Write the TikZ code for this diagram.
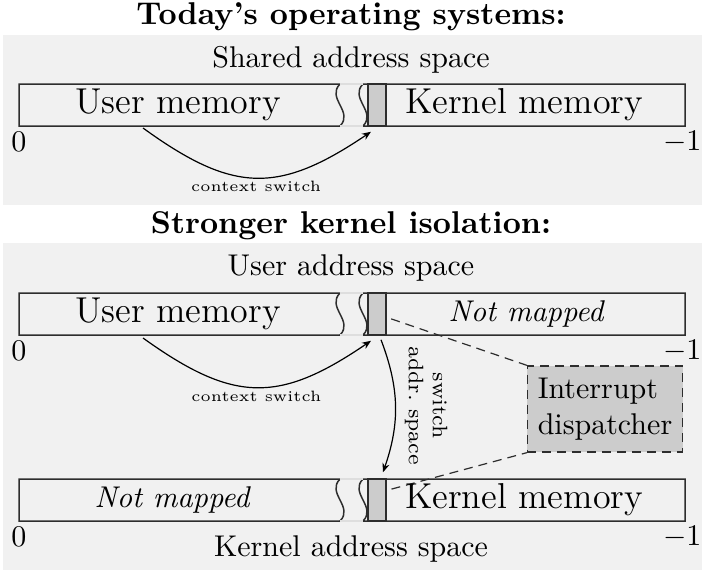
\documentclass[tikz,border=0pt]{standalone}
\usetikzlibrary{arrows.meta, backgrounds}
\definecolor{panelcol}{RGB}{241, 241, 241}
\definecolor{entrycol}{RGB}{204, 204, 204}
\definecolor{linecol}{RGB}{45, 45, 45}
\definecolor{gapcol}{RGB}{222, 222, 222}
\tikzset{
  panel/.style    = {fill=panelcol, draw=none},
  barline/.style  = {draw=linecol, line width=0.5pt},
  gapline/.style  = {draw=gapcol, line width=0.5pt},
  entry/.style    = {draw=linecol, fill=entrycol, line width=0.5pt,
                     minimum width=6pt, minimum height=14pt, inner sep=0pt},
  memtext/.style  = {inner sep=1pt, font=\large},
  unmapped/.style = {inner sep=1pt, font=\itshape},
  heading/.style  = {font=\fontsize{10.5}{13}\selectfont\bfseries, inner sep=1pt},
  spacelbl/.style = {inner sep=1pt},
  endlbl/.style   = {inner sep=0pt},
  flow/.style     = {-{Stealth[length=3pt, width=2.4pt]}, draw=black},
  cslbl/.style    = {font=\tiny, inner sep=1pt},
  swlbl/.style    = {font=\scriptsize, align=center, rotate=-90, inner sep=3pt},
  dispatch/.style = {draw=linecol, densely dashed, fill=entrycol, align=left,
                     minimum width=51.7pt, minimum height=28.7pt},
  maplink/.style  = {draw=linecol, densely dashed},
}

\begin{document}
\begin{tikzpicture}[x=0.3333pt, y=-0.3333pt]
  \useasboundingbox (0,0) rectangle (702,575);

  \begin{scope}[on background layer]
    \fill[panel] (3,35) rectangle (702,205);
    \fill[panel] (3,243) rectangle (702,570);
  \end{scope}

  %% ---------------- today ----------------
  \node[heading] (today) at (351,17) {Today's operating systems:};
  \node[spacelbl] (shared) at (351,60) {Shared address space};

  \draw[barline] (19,84) -- (340,84) .. controls (326,98) and (354,112) .. (340,126) -- (19,126) -- cycle;
  \draw[barline] (685,84) -- (363,84) .. controls (349,98) and (377,112) .. (363,126) -- (685,126) -- cycle;
  \draw[gapline] (340,84) -- (363,84) (340,126) -- (363,126);
  \node[entry] (entry1) at (377,105) {};
  \node[memtext] (umem1) at (178,105) {User memory};
  \node[memtext] (kmem1) at (524,105) {Kernel memory};
  \node[endlbl] (zero1) at (19,142) {0};
  \node[endlbl, anchor=east] (top1) at (702,142) {$-1$};

  \coordinate (cs1) at (143,128);
  \draw[flow] (cs1) to[bend right=35, looseness=1.25]
       node[cslbl, below] {context switch} ([shift={(-6,5)}]entry1.south);

  %% ---------------- isolation ----------------
  \node[heading] (strong) at (351,226) {Stronger kernel isolation:};
  \node[spacelbl] (uspace) at (351,268) {User address space};

  % user side
  \draw[barline] (19,293) -- (340,293) .. controls (326,307) and (354,321) .. (340,335) -- (19,335) -- cycle;
  \draw[barline] (685,293) -- (363,293) .. controls (349,307) and (377,321) .. (363,335) -- (685,335) -- cycle;
  \draw[gapline] (340,293) -- (363,293) (340,335) -- (363,335);
  \node[entry] (entry2) at (377,314) {};
  \node[memtext] (umem2) at (178,314) {User memory};
  \node[unmapped] (nomap2) at (526,314) {Not mapped};
  \node[endlbl] (zero2) at (19,351) {0};
  \node[endlbl, anchor=east] (top2) at (702,351) {$-1$};

  % kernel side
  \draw[barline] (19,479) -- (340,479) .. controls (326,493) and (354,507) .. (340,521) -- (19,521) -- cycle;
  \draw[barline] (685,479) -- (363,479) .. controls (349,493) and (377,507) .. (363,521) -- (685,521) -- cycle;
  \draw[gapline] (340,479) -- (363,479) (340,521) -- (363,521);
  \node[entry] (entry3) at (377,500) {};
  \node[unmapped] (nomap3) at (172,500) {Not mapped};
  \node[memtext] (kmem3) at (524,500) {Kernel memory};
  \node[endlbl] (zero3) at (19,537) {0};
  \node[endlbl, anchor=east] (top3) at (702,537) {$-1$};
  \node[spacelbl] (kspace) at (351,549) {Kernel address space};

  \node[dispatch] (disp) at (605,409) {Interrupt\\dispatcher};

  \coordinate (cs2) at (143,338);
  \draw[flow] (cs2) to[bend right=35, looseness=1.25]
       node[cslbl, below] {context switch} ([shift={(-6,5)}]entry2.south);
  \draw[flow] ([shift={(4,4)}]entry2.south) to[bend left=20]
       node[swlbl, anchor=south] {switch\\addr.\ space} ([shift={(6,-6)}]entry3.north);

  % the dispatcher is mapped in both spaces
  \begin{scope}[on background layer]
    \draw[maplink] (entry2.center) -- (disp.north west);
    \draw[maplink] ([shift={(0,-7)}]entry3.center) -- (disp.south west);
  \end{scope}

\end{tikzpicture}
\end{document}
